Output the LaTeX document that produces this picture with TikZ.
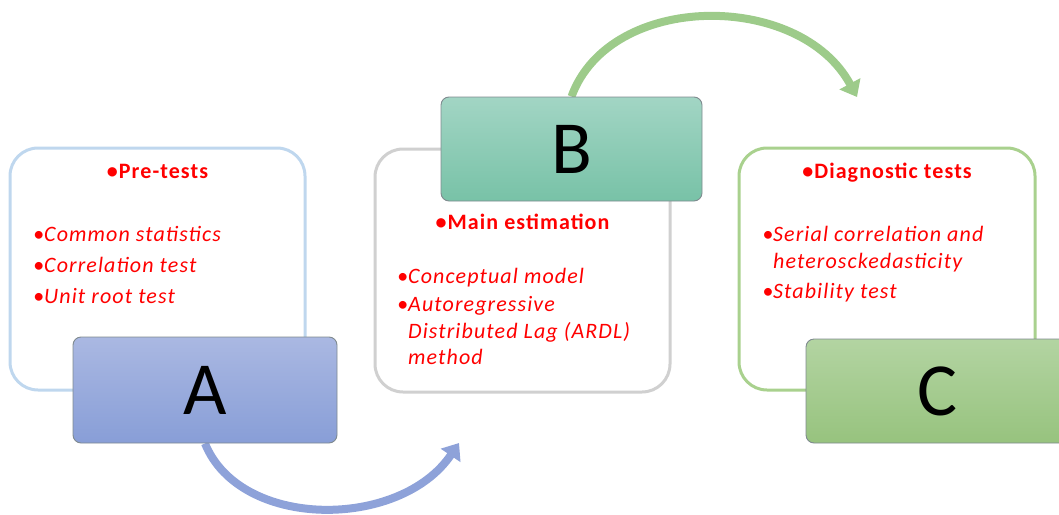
\documentclass[tikz,border=0pt]{standalone}
\usepackage{fontspec}
\setmainfont{Carlito}
\newfontfamily\textfam[LetterSpace=5]{Carlito}
\usetikzlibrary{arrows.meta,backgrounds}

\definecolor{panelA}{HTML}{BFD7EE}
\definecolor{panelB}{HTML}{D0D0D0}
\definecolor{panelC}{HTML}{A9D18E}
\definecolor{boxedge}{HTML}{7F8A8F}
\definecolor{aTop}{HTML}{AAB8E2}
\definecolor{aBot}{HTML}{889ED7}
\definecolor{bTop}{HTML}{A2D5C4}
\definecolor{bBot}{HTML}{78C2A7}
\definecolor{cTop}{HTML}{B3D4A2}
\definecolor{cBot}{HTML}{97C37E}
\definecolor{flowblue}{HTML}{8EA2D9}
\definecolor{flowgreen}{HTML}{9DCB8A}
\definecolor{itemred}{HTML}{FF0000}

\begin{document}
\begin{tikzpicture}[x=1pt,y=-1pt,
  panel/.style={draw, line width=3pt, rounded corners=28pt, inner sep=0pt},
  letterbox/.style={draw=boxedge, line width=0.9pt, rounded corners=8pt, inner sep=0pt,
    font=\fontsize{75}{75}\selectfont},
  head/.style={text=itemred, font=\textfam\fontsize{22}{27}\selectfont\bfseries, anchor=base, inner sep=0pt},
  item/.style={text=itemred, font=\textfam\fontsize{22}{27}\selectfont\itshape, anchor=base west, inner sep=0pt},
  flow/.style={line width=8pt, -{Triangle[width=23pt,length=15pt]}}
]
\useasboundingbox (0,0) rectangle (1059,514);

% outlined panels
\node[panel, draw=panelA, minimum width=295pt, minimum height=242pt] (pa) at (157.5,269) {};
\node[panel, draw=panelB, minimum width=295pt, minimum height=243pt] (pb) at (522.5,270.5) {};
\node[panel, draw=panelC, minimum width=296pt, minimum height=242pt] (pc) at (887,269) {};

% letter boxes
\node[letterbox, top color=aTop, bottom color=aBot, minimum width=264pt, minimum height=106pt] (A) at (205,390) {A};
\node[letterbox, top color=bTop, bottom color=bBot, minimum width=261pt, minimum height=104pt] (B) at (571.5,149) {B};
\node[letterbox, top color=cTop, bottom color=cBot, minimum width=262pt, minimum height=104pt] (C) at (937,391) {C};

% curved flow arrows
\coordinate (aEnd) at (459,443);
\coordinate (bEnd) at (857,97);
\begin{scope}[on background layer]
  \draw[flow, flowblue] (A.south) .. controls (240,530) and (400,530) .. (aEnd);
  \draw[flow, flowgreen] (B.north) .. controls (610,-9) and (800,-9) .. (bEnd);
\end{scope}

% panel A text
\node[head] (ha) at (157.5,178) {•Pre-tests};
\node[item] (a1) at (44,241) {\llap{•}Common statistics};
\node[item] (a2) at (44,272) {\llap{•}Correlation test};
\node[item] (a3) at (44,303) {\llap{•}Unit root test};

% panel B text
\node[head] (hb) at (522.5,229) {•Main estimation};
\node[item] (b1) at (408,283) {\llap{•}Conceptual model};
\node[item] (b2) at (408,311) {\llap{•}Autoregressive};
\node[item] (b2b) at (408,338) {Distributed Lag (ARDL)};
\node[item] (b2c) at (408,364) {method};

% panel C text
\node[head] (hc) at (887,178) {•Diagnostic tests};
\node[item] (c1) at (773,241) {\llap{•}Serial correlation and};
\node[item] (c1b) at (773,268) {heterosckedasticity};
\node[item] (c2) at (773,298) {\llap{•}Stability test};
\end{tikzpicture}
\end{document}
